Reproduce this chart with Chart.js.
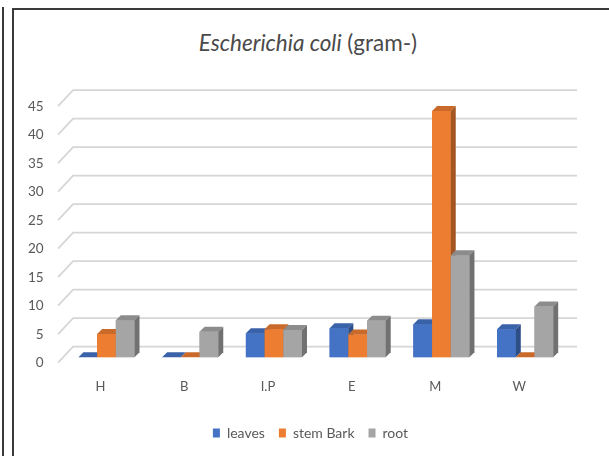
<!DOCTYPE html>
<html>
<head>
<meta charset="utf-8">
<script src="https://cdn.jsdelivr.net/npm/chart.js@4.4.1/dist/chart.umd.min.js"></script>
<style>
  body { margin: 0; background: #fff; }
  #wrap { position: relative; width: 609px; height: 456px; overflow: hidden; }
  #graph { position: absolute; left: 0; top: 0; }
  .line { position: absolute; background: #3a3a3a; }
  #title {
    position: absolute; left: 0; top: 29px; width: 616px; text-align: center;
    font-family: Lato, "Open Sans", sans-serif; font-size: 22.5px; color: #4a4a4a;
  }
</style>
</head>
<body>
<div id="wrap">
  <div class="line" style="left:2px; top:7px; width:2px; height:449px;"></div>
  <div class="line" style="left:12px; top:8px; width:2px; height:448px;"></div>
  <div class="line" style="left:12px; top:8px; width:597px; height:2px;"></div>
  <div id="title"><i>Escherichia coli</i> (gram-)</div>
  <canvas id="graph" width="609" height="456"></canvas>
</div>
<script>
// ------------ data -----------------------

var categories = ["H", "B", "I.P", "E", "M", "W"];
var leaves = [0, 0, 4.2, 5.1, 5.8, 4.9];
var stemBark = [4.1, 0, 4.9, 4.0, 43.2, 0];
var root = [6.5, 4.5, 4.8, 6.4, 17.9, 8.9];
var yTicks = [0, 5, 10, 15, 20, 25, 30, 35, 40, 45];

// ------------ colours (front, top, side) ----------

var faces = [
  ["#4472C4", "#3A62A8", "#2E4E87"],
  ["#ED7D31", "#C96A2A", "#A35622"],
  ["#A5A5A5", "#8C8C8C", "#717171"],
];
var depth = 5;

// ------------ back wall gridlines ----------

var wallGrid = {
  id: "wallGrid",
  afterLayout: function (chart) {
    // legend sits centred under the whole frame, not under the plot
    chart.legend.left += 27;
    chart.legend.right += 27;
  },
  beforeDatasetsDraw: function (chart) {
    var ctx = chart.ctx;
    var area = chart.chartArea;
    var y = chart.scales.y;
    ctx.save();
    ctx.strokeStyle = "#d6d6d6";
    ctx.lineWidth = 1.8;
    for (var t = 0; t < yTicks.length; t++) {
      var py = y.getPixelForValue(yTicks[t]);
      ctx.beginPath();
      ctx.moveTo(area.left - 6.5, py + 5.4);
      ctx.lineTo(area.left + 8.5, py - 10.7);
      ctx.lineTo(area.right + 10, py - 10.7);
      ctx.stroke();
    }
    ctx.restore();
  },
};

// ------------ 3d faces of the bars ----------

var bars3d = {
  id: "bars3d",
  afterDatasetsDraw: function (chart) {
    var ctx = chart.ctx;
    ctx.save();
    for (var i = 0; i < categories.length; i++) {
      for (var d = 0; d < chart.data.datasets.length; d++) {
        var bar = chart.getDatasetMeta(d).data[i];
        var left = bar.x - bar.width / 2;
        var right = bar.x + bar.width / 2;
        var top = bar.y;
        var base = bar.base;

        ctx.fillStyle = faces[d][0];
        ctx.fillRect(left, top, right - left, base - top);

        ctx.fillStyle = faces[d][1];
        ctx.beginPath();
        ctx.moveTo(left, top);
        ctx.lineTo(left + depth, top - depth);
        ctx.lineTo(right + depth, top - depth);
        ctx.lineTo(right, top);
        ctx.closePath();
        ctx.fill();

        ctx.fillStyle = faces[d][2];
        ctx.beginPath();
        ctx.moveTo(right, top);
        ctx.lineTo(right + depth, top - depth);
        ctx.lineTo(right + depth, base - depth);
        ctx.lineTo(right, base);
        ctx.closePath();
        ctx.fill();
      }
    }
    ctx.restore();
  },
};

// ------------ graph ----------

var ctx = document.getElementById("graph");
var font = "Lato, 'Open Sans', sans-serif";

var myChart = new Chart(ctx, {
  type: "bar",
  data: {
    labels: categories,
    datasets: [
      { label: "leaves", data: leaves, backgroundColor: faces[0][0] },
      { label: "stem Bark", data: stemBark, backgroundColor: faces[1][0] },
      { label: "root", data: root, backgroundColor: faces[2][0] },
    ],
  },
  options: {
    responsive: false,
    animation: false,
    layout: { padding: { left: 0, right: 42, top: 100.8, bottom: 6 } },
    datasets: { bar: { barPercentage: 1, categoryPercentage: 0.67, borderWidth: 0 } },
    plugins: {
      title: { display: false },
      tooltip: { enabled: false },
      legend: {
        position: "bottom",
        labels: {
          boxWidth: 7,
          boxHeight: 9,
          padding: 14,
          color: "#595959",
          font: { family: font, size: 14 },
        },
      },
    },
    scales: {
      x: {
        grid: { display: false, drawTicks: false },
        border: { display: false },
        ticks: { padding: 22, labelOffset: -6, color: "#595959", font: { family: font, size: 13 } },
        afterFit: function (s) { s.height = 54.7; },
      },
      y: {
        min: 0,
        max: 45,
        grid: { display: false, drawTicks: false },
        border: { display: false },
        ticks: { stepSize: 5, padding: 21, labelOffset: 5.4, color: "#595959", font: { family: font, size: 13.5 } },
        afterFit: function (s) { s.width = 64.6; },
      },
    },
  },
  plugins: [wallGrid, bars3d],
});
</script>
</body>
</html>
